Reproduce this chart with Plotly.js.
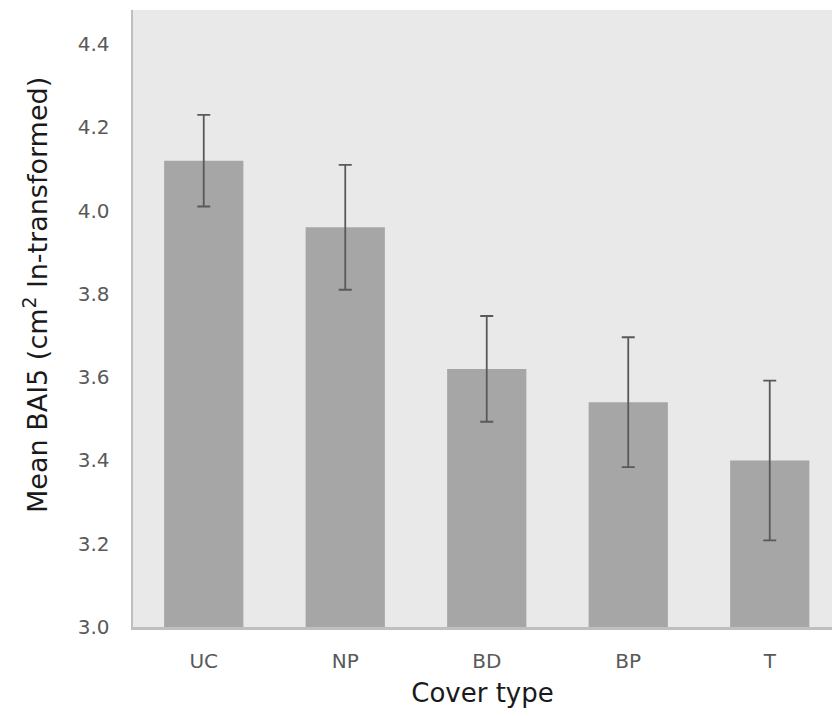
<!DOCTYPE html>
<html><head><meta charset="utf-8">
<script src="https://cdn.plot.ly/plotly-3.0.1.min.js"></script>
<style>html,body{margin:0;padding:0;background:#fff;}#chart{width:832px;height:716px;}</style>
</head><body><div id="chart"></div>
<script>
const categories = ["UC", "NP", "BD", "BP", "T"];
const meanValues = [4.12, 3.96, 3.62, 3.54, 3.40];
const errorValues = [0.11, 0.15, 0.127, 0.156, 0.192];
const yTickVals = [3.0, 3.2, 3.4, 3.6, 3.8, 4.0, 4.2, 4.4];
const yTickText = ["3.0", "3.2", "3.4", "3.6", "3.8", "4.0", "4.2", "4.4"];
const yTitle = "Mean BAI5 (cm<sup>2</sup> ln-transformed)";
const xTitle = "Cover type";

const trace = {
  type: "bar",
  x: categories,
  y: meanValues,
  width: 0.56,
  marker: {color: "#a6a6a6", line: {width: 0}},
  error_y: {type: "data", array: errorValues, visible: true, color: "#595959", thickness: 1.8, width: 6.5}
};

const layout = {
  width: 832, height: 716,
  margin: {l: 133, r: 0, t: 10, b: 89},
  paper_bgcolor: "#ffffff",
  plot_bgcolor: "#e9e9e9",
  font: {family: "DejaVu Sans, Verdana, sans-serif", color: "#595959"},
  showlegend: false,
  xaxis: {
    type: "category",
    range: [-0.5, 4.44],
    showgrid: false, zeroline: false,
    showline: true, linecolor: "#bfbfbf", linewidth: 2.5,
    ticks: "", ticklabelstandoff: 14,
    tickfont: {size: 20, color: "#595959"},
    title: {text: xTitle, font: {size: 26, color: "#1a1a1a"}, standoff: 13}
  },
  yaxis: {
    range: [3.0, 4.482],
    tickvals: yTickVals, ticktext: yTickText,
    showgrid: false, zeroline: false,
    showline: true, linecolor: "#bfbfbf", linewidth: 2.5,
    ticks: "", ticklabelstandoff: 17,
    tickfont: {size: 20, color: "#595959"}
  },
  annotations: [{
    text: yTitle, textangle: -90, showarrow: false,
    xref: "paper", yref: "paper",
    x: (35 - 133) / 699, y: (627 - 295) / 617,
    xanchor: "center", yanchor: "middle",
    font: {size: 27, color: "#1a1a1a"}
  }]
};

Plotly.newPlot("chart", [trace], layout, {displayModeBar: false, staticPlot: true});
</script></body></html>
